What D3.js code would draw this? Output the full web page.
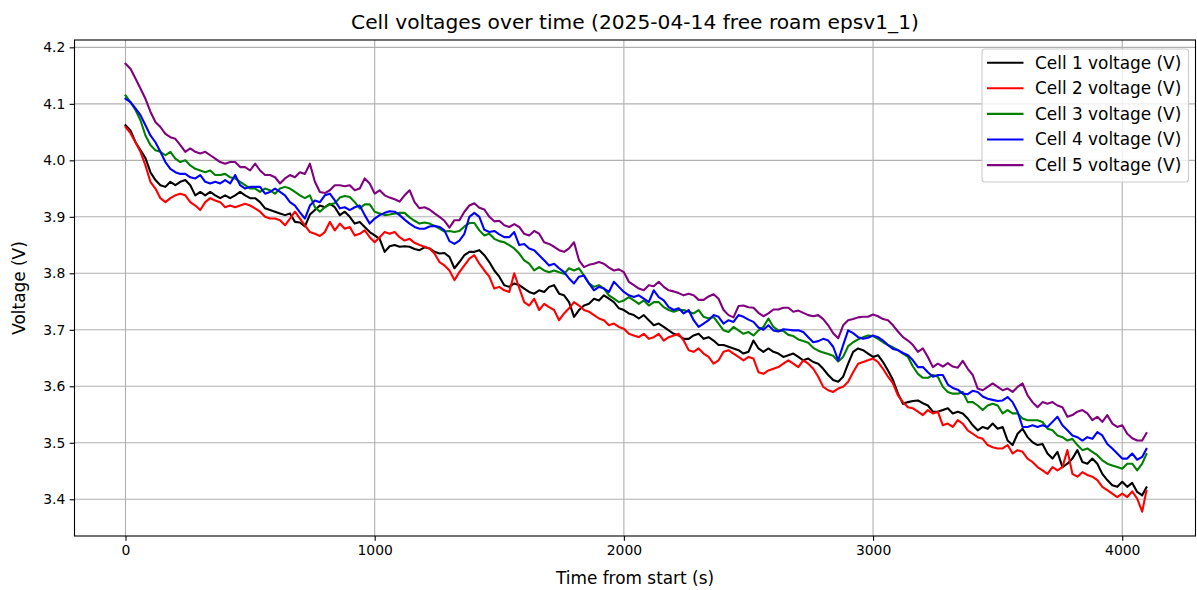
<!DOCTYPE html>
<html>
<head>
<meta charset="utf-8">
<script src="https://cdn.jsdelivr.net/npm/d3@7"></script>
<style>
  html, body { margin: 0; padding: 0; background: #ffffff; }
  svg { display: block; font-family: "DejaVu Sans", sans-serif; }
</style>
</head>
<body>
<svg id="chart" width="1197" height="590"></svg>
<script>
// ---------------- data ----------------
const timeS = [
  0,20,40,60,80,100,120,140,160,180,
  200,220,240,260,280,300,320,340,360,380,
  400,420,440,460,480,500,520,540,560,580,
  600,620,640,660,680,700,720,740,760,780,
  800,820,840,860,880,900,920,940,960,980,
  1000,1020,1040,1060,1080,1100,1120,1140,1160,1180,
  1200,1220,1240,1260,1280,1300,1320,1340,1360,1380,
  1400,1420,1440,1460,1480,1500,1520,1540,1560,1580,
  1600,1620,1640,1660,1680,1700,1720,1740,1760,1780,
  1800,1820,1840,1860,1880,1900,1920,1940,1960,1980,
  2000,2020,2040,2060,2080,2100,2120,2140,2160,2180,
  2200,2220,2240,2260,2280,2300,2320,2340,2360,2380,
  2400,2420,2440,2460,2480,2500,2520,2540,2560,2580,
  2600,2620,2640,2660,2680,2700,2720,2740,2760,2780,
  2800,2820,2840,2860,2880,2900,2920,2940,2960,2980,
  3000,3020,3040,3060,3080,3100,3120,3140,3160,3180,
  3200,3220,3240,3260,3280,3300,3320,3340,3360,3380,
  3400,3420,3440,3460,3480,3500,3520,3540,3560,3580,
  3600,3620,3640,3660,3680,3700,3720,3740,3760,3780,
  3800,3820,3840,3860,3880,3900,3920,3940,3960,3980,
  4000,4020,4040,4060,4080,4097
];

const cell1 = [
  4.062,4.053,4.032,4.018,4.004,3.979,3.965,3.956,3.953,3.962,3.956,3.962,3.965,3.956,3.938,3.944,3.938,3.944,3.938,3.933,
  3.938,3.933,3.938,3.944,3.938,3.933,3.933,3.926,3.915,3.912,3.909,3.906,3.903,3.906,3.891,3.890,3.883,3.904,3.912,3.920,
  3.917,3.923,3.917,3.903,3.909,3.900,3.888,3.891,3.882,3.873,3.867,3.861,3.838,3.848,3.850,3.847,3.848,3.847,3.843,3.841,
  3.846,3.844,3.838,3.835,3.836,3.829,3.809,3.820,3.832,3.838,3.838,3.841,3.832,3.820,3.805,3.794,3.779,3.776,3.782,3.779,
  3.773,3.767,3.764,3.770,3.767,3.776,3.779,3.764,3.761,3.749,3.723,3.735,3.743,3.746,3.755,3.752,3.761,3.755,3.749,3.738,
  3.735,3.729,3.726,3.720,3.726,3.717,3.708,3.711,3.705,3.699,3.693,3.690,3.684,3.684,3.690,3.693,3.684,3.687,3.681,
  3.673,3.673,3.670,3.667,3.664,3.658,3.661,3.681,3.667,3.661,3.667,3.661,3.658,3.652,3.655,3.658,3.652,3.646,3.649,3.643,
  3.640,3.631,3.620,3.611,3.608,3.617,3.640,3.661,3.667,3.664,3.658,3.652,3.655,3.643,3.628,3.611,3.587,3.569,3.572,3.574,
  3.575,3.570,3.566,3.555,3.555,
  3.558,3.561,3.552,3.555,3.552,3.543,3.531,3.522,3.528,3.525,3.534,3.525,3.528,3.504,3.496,3.516,3.525,3.510,3.501,3.496,
  3.498,3.481,3.472,3.484,3.457,3.463,3.472,3.487,3.466,3.463,3.472,3.463,3.445,3.434,3.425,3.422,3.431,3.422,3.429,3.413,
  3.407,3.421
];

const cell2 = [
  4.059,4.048,4.032,4.015,3.991,3.962,3.950,3.933,3.926,3.933,3.938,3.941,3.938,3.926,3.920,3.912,3.926,3.933,3.929,3.926,
  3.917,3.920,3.917,3.920,3.923,3.920,3.915,3.909,3.900,3.897,3.897,3.894,3.885,3.897,3.909,3.897,3.885,3.873,3.870,3.866,
  3.873,3.891,3.876,3.888,3.879,3.882,3.867,3.870,3.876,3.864,3.855,3.864,3.873,3.870,3.873,3.864,3.858,3.861,3.854,3.850,
  3.847,3.844,3.835,3.820,3.814,3.805,3.788,3.802,3.814,3.826,3.832,3.817,3.805,3.794,3.773,3.776,3.770,3.767,3.800,3.774,
  3.749,3.743,3.755,3.735,3.746,3.740,3.735,3.717,3.729,3.738,3.749,3.743,3.735,3.732,3.726,3.720,3.717,3.708,3.711,3.705,
  3.702,3.693,3.690,3.687,3.693,3.684,3.687,
  3.693,3.681,3.687,3.690,3.693,3.681,3.664,3.661,3.667,3.658,3.652,3.640,3.646,3.661,3.664,3.658,3.652,3.646,3.652,3.649,
  3.625,3.622,3.628,3.631,3.634,3.640,3.646,3.640,3.634,3.646,3.640,3.631,3.617,3.599,3.593,3.590,3.596,3.599,3.608,3.625,
  3.640,3.643,3.646,3.649,3.643,3.631,3.617,3.605,3.584,3.572,3.563,3.561,3.555,3.549,3.558,3.552,3.555,
  3.531,3.534,3.528,3.540,3.534,3.522,3.516,3.510,3.507,3.496,3.492,3.490,3.490,3.496,3.481,3.487,3.484,3.472,3.466,3.457,
  3.451,3.445,3.457,3.451,3.457,3.487,3.445,3.440,3.448,3.443,3.440,3.434,3.422,3.416,3.410,3.404,3.410,3.404,3.414,3.401,
  3.378,3.415
];

const cell3 = [
  4.115,4.103,4.089,4.071,4.044,4.027,4.018,4.015,4.009,4.015,4.003,3.997,4.000,3.991,3.985,3.982,3.979,3.982,3.974,3.974,
  3.976,3.970,3.968,3.962,3.956,3.950,3.950,3.944,3.950,3.947,3.941,3.950,3.953,3.950,3.944,3.938,3.933,3.938,3.917,3.909,
  3.917,3.922,3.924,3.934,3.937,3.935,3.926,3.915,3.922,3.922,3.909,3.906,3.903,3.904,3.906,3.907,3.907,3.899,3.893,3.888,
  3.890,3.888,3.884,3.879,3.874,3.875,3.873,3.875,3.883,3.889,3.889,3.876,3.867,3.870,3.861,3.857,3.855,3.850,3.844,3.835,
  3.823,3.817,3.805,3.811,3.805,3.802,3.805,3.802,3.799,3.809,3.805,3.809,3.796,3.782,3.776,3.779,3.773,3.761,3.755,3.749,
  3.752,3.758,3.752,3.746,3.752,3.743,3.749,3.749,3.740,3.735,3.732,3.735,3.735,3.732,3.729,3.735,3.723,3.720,3.723,3.711,
  3.699,3.696,
  3.705,3.699,3.693,3.696,3.690,3.699,3.705,3.720,3.705,3.699,3.698,3.691,3.689,3.683,3.680,3.677,3.668,3.663,3.660,3.657,
  3.654,3.644,3.652,3.671,3.678,3.683,3.687,3.690,3.689,3.684,3.678,3.673,3.669,3.664,3.658,3.652,3.635,3.622,3.615,3.615,
  3.620,3.617,
  3.599,3.590,3.587,3.587,3.590,3.572,3.572,3.566,3.558,3.566,3.569,3.566,3.552,3.558,3.552,3.552,3.543,3.540,3.540,3.540,
  3.537,3.525,3.522,3.513,3.510,3.504,3.507,3.496,3.487,3.490,3.484,3.478,3.469,3.463,3.460,3.457,3.454,3.463,3.463,3.451,
  3.463,3.480
];

const cell4 = [
  4.109,4.103,4.092,4.080,4.062,4.044,4.032,4.015,3.997,3.985,3.979,3.976,3.976,3.970,3.968,3.974,3.962,3.959,3.962,3.959,
  3.965,3.959,3.974,3.956,3.950,3.953,3.953,3.953,3.941,3.944,3.950,3.944,3.938,3.926,3.920,3.908,3.897,3.920,3.929,3.926,
  3.938,3.941,3.929,3.915,3.917,3.912,3.917,3.920,3.903,3.888,3.897,3.903,3.907,3.910,3.909,3.903,3.895,3.888,3.882,3.879,
  3.879,3.883,3.884,3.882,3.876,3.857,3.852,3.858,3.870,3.900,3.907,3.900,3.877,3.873,3.875,3.869,3.864,3.864,3.873,3.850,
  3.852,3.844,3.841,3.832,3.823,3.814,3.817,3.809,3.802,3.791,3.782,3.794,3.796,3.782,3.770,3.776,3.773,3.767,3.785,3.776,
  3.767,3.761,3.758,3.761,3.755,3.749,3.770,3.758,3.752,3.740,3.735,3.738,3.729,3.735,3.717,3.705,3.711,3.717,3.726,3.723,
  3.711,3.717,
  3.714,3.726,3.723,3.718,3.714,3.704,3.700,3.708,3.699,3.697,3.701,3.700,3.699,3.699,3.696,3.687,3.678,3.680,3.684,3.681,
  3.670,3.646,3.673,3.699,3.694,3.687,3.684,3.686,3.690,3.687,3.681,3.673,3.666,3.664,3.659,3.655,3.646,3.634,3.634,3.625,
  3.617,3.620,
  3.620,3.603,3.597,3.594,3.587,3.586,3.592,3.590,3.582,3.578,3.576,3.574,3.575,3.581,3.572,3.555,3.528,3.528,3.531,3.528,
  3.531,3.528,3.537,3.546,3.531,3.522,3.513,3.510,3.504,3.510,3.507,3.519,3.513,3.498,3.490,3.481,3.472,3.472,3.481,3.470,
  3.475,3.489
];

const cell5 = [
  4.171,4.162,4.145,4.127,4.109,4.086,4.068,4.059,4.047,4.041,4.038,4.027,4.015,4.021,4.015,4.012,4.015,4.009,4.003,3.997,
  3.994,3.997,3.997,3.988,3.988,3.982,3.994,3.982,3.974,3.974,3.970,3.959,3.968,3.974,3.970,3.979,3.976,3.994,3.962,3.944,
  3.942,3.947,3.956,3.956,3.954,3.956,3.947,3.950,3.968,3.959,3.941,3.947,3.938,3.934,3.931,3.927,3.938,3.947,3.926,3.915,
  3.917,3.913,3.906,3.900,3.893,3.881,3.894,3.894,3.909,3.920,3.924,3.916,3.913,3.900,3.892,3.893,3.885,3.882,3.887,3.882,
  3.870,3.867,3.875,3.870,3.855,3.852,3.847,3.841,3.838,3.844,3.855,3.823,3.811,3.815,3.817,3.820,3.817,3.810,3.805,3.807,
  3.802,3.785,3.779,3.773,3.770,3.779,3.777,3.785,3.776,3.770,3.768,3.765,3.761,3.764,3.761,3.753,3.753,3.759,3.763,3.755,
  3.735,3.726,
  3.722,3.742,3.743,3.740,3.739,3.730,3.724,3.729,3.736,3.736,3.739,3.739,3.732,3.734,3.730,3.726,3.724,3.726,3.719,3.708,
  3.694,3.685,3.708,3.717,3.719,3.722,3.723,3.723,3.727,3.724,3.719,3.717,3.708,3.697,3.687,3.681,3.673,3.661,3.667,3.652,
  3.634,3.640,
  3.635,3.641,3.635,3.633,3.645,3.631,3.620,3.596,3.593,3.599,3.605,3.599,3.593,3.596,3.590,3.599,3.605,3.584,3.572,3.563,
  3.572,3.569,3.572,3.566,3.563,3.546,3.549,3.555,3.558,3.552,3.540,3.546,3.537,3.549,3.534,3.528,3.531,3.516,3.508,3.504,
  3.504,3.517
];

const seriesNames = ["Cell 1 voltage (V)", "Cell 2 voltage (V)", "Cell 3 voltage (V)", "Cell 4 voltage (V)", "Cell 5 voltage (V)"];
const xTickValues = [0, 1000, 2000, 3000, 4000];
const yTickValues = [3.4, 3.5, 3.6, 3.7, 3.8, 3.9, 4.0, 4.1, 4.2];
const titleText = "Cell voltages over time (2025-04-14 free roam epsv1_1)";
const xLabelText = "Time from start (s)";
const yLabelText = "Voltage (V)";

// ---------------- styles / layout ----------------
const seriesColors = ["#000000", "#ff0000", "#008000", "#0000ff", "#800080"];
const W = 1197, H = 590;
const plot = { left: 74.5, right: 1195.5, top: 40, bottom: 536 };
const fontTick = 13.9, fontLabel = 16.9, fontTitle = 20.2;

const svg = d3.select("#chart");
svg.append("rect").attr("width", W).attr("height", H).attr("fill", "#ffffff");

const x = d3.scaleLinear().domain([-204.7, 4294]).range([plot.left, plot.right]);
const y = d3.scaleLinear().domain([3.335, 4.213]).range([plot.bottom, plot.top]);

// clip
svg.append("defs").append("clipPath").attr("id", "clip")
  .append("rect").attr("x", plot.left).attr("y", plot.top)
  .attr("width", plot.right - plot.left).attr("height", plot.bottom - plot.top);

// grid
const grid = svg.append("g");
grid.selectAll("line.gx").data(xTickValues).enter().append("line")
  .attr("x1", d => x(d)).attr("x2", d => x(d))
  .attr("y1", plot.top).attr("y2", plot.bottom)
  .attr("stroke", "#b0b0b0").attr("stroke-width", 1.1);
grid.selectAll("line.gy").data(yTickValues).enter().append("line")
  .attr("x1", plot.left).attr("x2", plot.right)
  .attr("y1", d => y(d)).attr("y2", d => y(d))
  .attr("stroke", "#b0b0b0").attr("stroke-width", 1.1);

// lines
const cells = [cell1, cell2, cell3, cell4, cell5];
const lineGen = d3.line().x((d, i) => x(timeS[i])).y(d => y(d));
const linesG = svg.append("g").attr("clip-path", "url(#clip)");
cells.forEach((vals, si) => {
  linesG.append("path").datum(vals)
    .attr("d", lineGen)
    .attr("fill", "none")
    .attr("stroke", seriesColors[si])
    .attr("stroke-width", 2.1)
    .attr("stroke-linejoin", "round")
    .attr("stroke-linecap", "square");
});

// axes via d3
const xAxis = d3.axisBottom(x).tickValues(xTickValues).tickFormat(d3.format("d"))
  .tickSizeInner(4.86).tickSizeOuter(0).tickPadding(4.3);
const yAxis = d3.axisLeft(y).tickValues(yTickValues).tickFormat(d3.format(".1f"))
  .tickSizeInner(4.86).tickSizeOuter(0).tickPadding(4.3);

const gx = svg.append("g").attr("transform", `translate(0,${plot.bottom})`).call(xAxis);
const gy = svg.append("g").attr("transform", `translate(${plot.left},0)`).call(yAxis);
[gx, gy].forEach(g => {
  g.select(".domain").remove();
  g.selectAll(".tick line").attr("stroke", "#000").attr("stroke-width", 1.1);
  g.selectAll(".tick text").attr("fill", "#000").attr("font-size", fontTick)
    .attr("font-family", "DejaVu Sans");
});

// spines
svg.append("rect")
  .attr("x", plot.left).attr("y", plot.top)
  .attr("width", plot.right - plot.left).attr("height", plot.bottom - plot.top)
  .attr("fill", "none").attr("stroke", "#000").attr("stroke-width", 1.1);

// title & labels
const cx = (plot.left + plot.right) / 2;
svg.append("text").attr("x", cx).attr("y", 29)
  .attr("text-anchor", "middle").attr("font-size", fontTitle).attr("fill", "#000")
  .text(titleText);
svg.append("text").attr("x", cx).attr("y", 584)
  .attr("text-anchor", "middle").attr("font-size", fontLabel).attr("fill", "#000")
  .text(xLabelText);
svg.append("text")
  .attr("transform", `translate(25,${(plot.top + plot.bottom) / 2}) rotate(-90)`)
  .attr("text-anchor", "middle").attr("font-size", fontLabel).attr("fill", "#000")
  .text(yLabelText);

// legend
const leg = svg.append("g");
const legBox = { x: 982, y: 49, w: 206.5, h: 133 };
leg.append("rect").attr("x", legBox.x).attr("y", legBox.y)
  .attr("width", legBox.w).attr("height", legBox.h).attr("rx", 3)
  .attr("fill", "#ffffff").attr("fill-opacity", 0.8)
  .attr("stroke", "#cccccc").attr("stroke-width", 1.1);
seriesNames.forEach((name, i) => {
  const yy = 62.7 + i * 25.6;
  leg.append("line").attr("x1", 987).attr("x2", 1023.5).attr("y1", yy).attr("y2", yy)
    .attr("stroke", seriesColors[i]).attr("stroke-width", 2.1);
  leg.append("text").attr("x", 1035).attr("y", yy).attr("dy", "0.35em")
    .attr("font-size", fontLabel).attr("fill", "#000").text(name);
});
</script>
</body>
</html>
